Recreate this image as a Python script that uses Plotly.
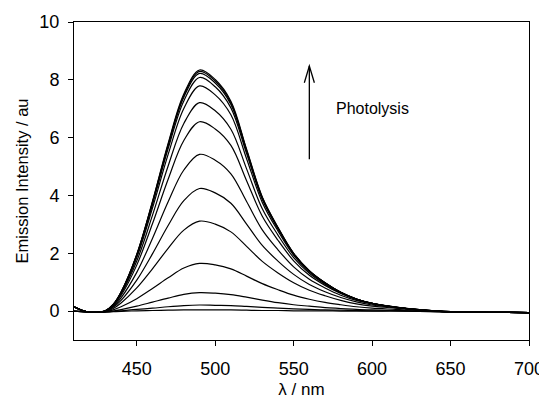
import plotly.graph_objects as go

# Wavelength grid (nm)
wavelength = [410, 415, 420, 425, 430, 435, 440, 450, 460, 470, 480, 490, 500, 510,
              520, 530, 540, 550, 560, 570, 580, 590, 600, 615, 630, 650, 675, 700]

s01 = [0.15, 0.03, -0.04, -0.04, 0.01, 0.23, 0.66, 1.96, 3.79, 5.80, 7.51, 8.34, 8.01, 7.26,
       5.60, 3.95, 2.90, 2.00, 1.40, 0.98, 0.65, 0.42, 0.27, 0.13, 0.04, -0.03, -0.04, -0.05]
s02 = [0.15, 0.03, -0.04, -0.04, 0.01, 0.23, 0.65, 1.95, 3.77, 5.76, 7.46, 8.29, 7.96, 7.21,
       5.57, 3.93, 2.88, 1.99, 1.39, 0.98, 0.65, 0.41, 0.27, 0.13, 0.04, -0.03, -0.04, -0.05]
s03 = [0.15, 0.03, -0.04, -0.04, 0.01, 0.23, 0.65, 1.94, 3.74, 5.71, 7.40, 8.22, 7.89, 7.15,
       5.53, 3.91, 2.87, 1.99, 1.39, 0.98, 0.65, 0.42, 0.27, 0.13, 0.04, -0.03, -0.04, -0.05]
s04 = [0.15, 0.03, -0.04, -0.04, 0.01, 0.22, 0.64, 1.91, 3.68, 5.62, 7.27, 8.08, 7.76, 7.03,
       5.45, 3.86, 2.84, 1.97, 1.38, 0.97, 0.65, 0.42, 0.27, 0.13, 0.04, -0.03, -0.04, -0.05]
s05 = [0.15, 0.03, -0.04, -0.04, 0.01, 0.22, 0.62, 1.85, 3.56, 5.42, 7.01, 7.79, 7.48, 6.79,
       5.27, 3.76, 2.77, 1.93, 1.36, 0.96, 0.64, 0.42, 0.27, 0.14, 0.04, -0.03, -0.04, -0.05]
s06 = [0.15, 0.03, -0.04, -0.04, 0.00, 0.21, 0.59, 1.73, 3.31, 5.02, 6.49, 7.21, 6.93, 6.29,
       4.92, 3.54, 2.63, 1.85, 1.31, 0.93, 0.63, 0.41, 0.27, 0.14, 0.05, -0.03, -0.04, -0.05]
s07 = [0.15, 0.03, -0.04, -0.04, 0.00, 0.19, 0.54, 1.59, 3.02, 4.56, 5.90, 6.55, 6.30, 5.73,
       4.51, 3.28, 2.45, 1.74, 1.24, 0.89, 0.61, 0.40, 0.26, 0.14, 0.05, -0.02, -0.04, -0.05]
s08 = [0.15, 0.03, -0.04, -0.04, -0.01, 0.16, 0.46, 1.34, 2.51, 3.78, 4.88, 5.42, 5.22, 4.75,
       3.79, 2.81, 2.12, 1.53, 1.10, 0.80, 0.55, 0.37, 0.25, 0.13, 0.05, -0.02, -0.04, -0.05]
s09 = [0.15, 0.03, -0.04, -0.04, -0.02, 0.13, 0.37, 1.07, 1.98, 2.96, 3.82, 4.24, 4.09, 3.73,
       3.01, 2.27, 1.73, 1.27, 0.92, 0.67, 0.47, 0.32, 0.21, 0.12, 0.05, -0.02, -0.04, -0.05]
s10 = [0.15, 0.03, -0.04, -0.04, -0.02, 0.09, 0.28, 0.80, 1.46, 2.17, 2.80, 3.11, 3.01, 2.74,
       2.24, 1.72, 1.32, 0.98, 0.72, 0.53, 0.37, 0.25, 0.17, 0.10, 0.04, -0.02, -0.04, -0.05]
s11 = [0.00, -0.02, -0.04, -0.04, -0.03, 0.04, 0.15, 0.43, 0.78, 1.15, 1.49, 1.65, 1.60, 1.46,
       1.21, 0.95, 0.74, 0.55, 0.41, 0.30, 0.22, 0.15, 0.10, 0.06, 0.02, -0.02, -0.04, -0.05]
s12 = [0.00, -0.02, -0.04, -0.04, -0.03, 0.00, 0.05, 0.17, 0.31, 0.45, 0.58, 0.64, 0.62, 0.57,
       0.48, 0.38, 0.29, 0.22, 0.17, 0.12, 0.09, 0.06, 0.04, 0.02, 0.00, -0.03, -0.04, -0.05]
s13 = [0.00, -0.02, -0.04, -0.04, -0.03, -0.01, 0.01, 0.06, 0.10, 0.15, 0.19, 0.21, 0.20, 0.19,
       0.16, 0.13, 0.10, 0.08, 0.06, 0.04, 0.03, 0.02, 0.01, 0.01, -0.01, -0.03, -0.04, -0.05]
s14 = [0.00, -0.02, -0.04, -0.04, -0.03, -0.02, -0.01, 0.01, 0.02, 0.03, 0.04, 0.04, 0.04, 0.04,
       0.03, 0.02, 0.02, 0.01, 0.01, 0.01, 0.00, 0.00, 0.00, 0.00, -0.01, -0.03, -0.04, -0.05]

spectra = [s01, s02, s03, s04, s05, s06, s07, s08, s09, s10, s11, s12, s13, s14]

x_ticks = [450, 500, 550, 600, 650, 700]
y_ticks = [0, 2, 4, 6, 8, 10]

FONT = "Arial, Liberation Sans, sans-serif"

fig = go.Figure()
for s in spectra:
    fig.add_trace(go.Scatter(x=wavelength, y=s, mode="lines",
                             line=dict(color="black", width=1.2, shape="spline", smoothing=1.0),
                             showlegend=False, hoverinfo="skip"))

# Arrow (open head) and label
arrow_x, arrow_y0, arrow_y1 = 560, 5.25, 8.48
fig.add_shape(type="line", x0=arrow_x, x1=arrow_x, y0=arrow_y0, y1=arrow_y1,
              line=dict(color="black", width=1.3))
fig.add_shape(type="path",
              path=f"M {arrow_x-3.2},{arrow_y1-0.58} L {arrow_x},{arrow_y1} L {arrow_x+3.2},{arrow_y1-0.58}",
              line=dict(color="black", width=1.3))
fig.add_annotation(x=576.0, y=7.0, text="Photolysis", showarrow=False,
                   xanchor="left", yanchor="middle",
                   font=dict(family=FONT, size=16, color="black"))

# the page body adds an 8px offset; the figure is sized so the page does not overflow vertically
fig.update_layout(
    width=539, height=391,
    margin=dict(l=66, r=18, t=14, b=59, autoexpand=False),
    paper_bgcolor="white", plot_bgcolor="white",
    font=dict(family=FONT, size=17, color="black"),
    xaxis=dict(range=[410, 700], tickvals=x_ticks, ticks="outside", ticklen=5,
               tickwidth=1, tickcolor="black", showline=True, linecolor="black",
               linewidth=1, mirror=True, showgrid=False, zeroline=False,
               automargin=False,
               title=dict(text="λ / nm", font=dict(size=17), standoff=13),
               tickfont=dict(size=18), ticklabelstandoff=7),
    yaxis=dict(range=[-1, 10], tickvals=y_ticks, ticks="outside", ticklen=5,
               tickwidth=1, tickcolor="black", showline=True, linecolor="black",
               linewidth=1, mirror=True, showgrid=False, zeroline=False,
               automargin=False,
               title=dict(text="Emission Intensity / au", font=dict(size=16.5), standoff=6),
               tickfont=dict(size=18), ticklabelstandoff=5),
)

fig.write_html("out.html")
